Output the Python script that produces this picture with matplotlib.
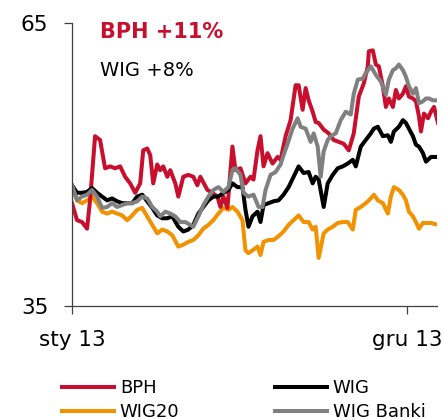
import numpy as np
import matplotlib
matplotlib.use("Agg")
import matplotlib.pyplot as plt
import matplotlib.dates as mdates
import datetime as dt

plt.rcParams['font.family'] = ['DejaVu Sans']

start = dt.date(2013, 1, 1)

# BPH
bph_days = [0, 5, 10, 15, 18, 23, 28, 33, 38, 43, 48, 53, 58, 63, 68, 71, 75, 78, 81, 85,
            88, 91, 95, 98, 103, 106, 111, 116, 121, 125, 128, 135, 140, 145, 148, 151, 155,
            160, 163, 168, 173, 178, 181, 185, 188, 191, 195, 200, 205, 208, 213, 218, 223,
            226, 230, 233, 236, 240, 243, 246, 251, 256, 261, 266, 271, 276, 281, 286, 291,
            295, 296, 300, 303, 306, 310, 313, 316, 320, 323, 326, 330, 333, 336, 340, 343,
            346, 348, 351, 355, 358, 361, 365]
bph = [45.9, 44.1, 43.9, 43.2, 46.2, 53.0, 52.6, 49.6, 49.8, 49.6, 49.8, 48.7, 48.0, 47.0,
       48.0, 51.5, 51.7, 51.0, 48.0, 50.0, 49.4, 49.8, 48.7, 49.4, 48.0, 46.6, 48.7, 48.9,
       48.7, 47.8, 48.7, 47.3, 47.0, 46.6, 45.5, 46.6, 45.4, 51.9, 49.4, 49.6, 48.0, 48.7,
       48.4, 51.5, 53.0, 49.8, 51.2, 50.1, 50.8, 50.5, 53.0, 54.7, 58.4, 58.4, 55.8, 58.1,
       56.8, 55.6, 54.5, 54.4, 53.7, 53.3, 52.6, 52.4, 52.2, 51.5, 53.3, 57.2, 58.6, 60.4,
       62.0, 62.1, 60.6, 60.4, 58.3, 56.1, 57.0, 56.1, 57.9, 57.0, 57.5, 58.3, 57.2, 57.0,
       56.7, 55.1, 53.5, 55.4, 54.9, 55.6, 56.1, 54.4]

# WIG Banki
banki_days = [0, 5, 10, 15, 20, 25, 30, 35, 40, 45, 50, 55, 60, 65, 70, 75, 80, 85, 88, 93,
              98, 103, 108, 113, 118, 121, 126, 131, 136, 141, 146, 151, 156, 160, 163, 168,
              171, 176, 181, 186, 190, 193, 198, 203, 208, 211, 215, 220, 225, 228, 233, 238,
              241, 245, 248, 251, 255, 258, 263, 268, 273, 278, 281, 285, 290, 293, 298, 303,
              308, 313, 316, 320, 323, 326, 330, 333, 336, 340, 343, 346, 350, 353, 356, 360, 365]
banki = [47.8, 46.2, 46.6, 46.8, 47.3, 46.6, 45.4, 45.5, 45.9, 45.5, 45.7, 45.9, 45.9, 46.1,
         46.6, 46.4, 45.5, 45.0, 44.5, 45.0, 44.8, 44.5, 43.9, 43.9, 43.6, 43.4, 44.5, 45.7,
         46.6, 47.3, 47.6, 47.1, 47.6, 49.4, 49.6, 48.9, 47.0, 46.6, 46.8, 45.5, 45.5, 47.3,
         48.9, 49.2, 50.0, 51.0, 52.2, 53.8, 54.9, 54.0, 53.8, 52.4, 53.3, 51.9, 48.7, 51.4,
         52.6, 53.0, 53.3, 54.7, 55.6, 55.3, 57.5, 59.0, 59.1, 59.7, 60.4, 59.5, 58.8, 57.4,
         59.0, 60.0, 60.2, 60.6, 60.0, 59.3, 58.3, 57.5, 58.1, 56.5, 56.7, 57.0, 57.0, 56.8, 56.8]

# WIG and WIG20 (same sampling days)
idx_days = [0, 5, 10, 15, 20, 25, 30, 35, 40, 45, 50, 55, 60, 65, 70, 75, 80, 85, 90, 95,
            100, 106, 111, 116, 121, 126, 131, 136, 141, 146, 151, 156, 160, 165, 170, 173,
            176, 180, 185, 188, 191, 196, 201, 206, 211, 216, 221, 226, 231, 236, 240, 243,
            246, 251, 255, 260, 265, 270, 275, 280, 283, 288, 293, 298, 301, 305, 310, 315,
            318, 321, 326, 330, 333, 336, 340, 343, 346, 350, 353, 358, 365]
wig = [47.8, 47.0, 47.0, 47.1, 47.5, 47.0, 46.6, 46.2, 46.4, 46.1, 45.9, 45.9, 45.9, 46.6,
       46.8, 46.1, 45.4, 44.6, 44.3, 44.3, 44.5, 43.4, 42.9, 43.1, 43.6, 44.8, 45.5, 46.2,
       46.6, 46.6, 47.0, 47.3, 48.0, 47.6, 47.6, 45.2, 43.4, 44.5, 45.0, 43.9, 45.7, 45.9,
       46.1, 46.2, 46.8, 47.6, 48.7, 49.8, 49.1, 49.2, 48.0, 48.7, 48.4, 45.5, 48.0, 48.9,
       49.6, 49.8, 50.1, 50.5, 49.8, 51.9, 52.6, 53.3, 53.8, 54.0, 53.0, 53.1, 52.4, 53.5,
       54.0, 54.7, 54.4, 53.8, 53.0, 52.1, 51.9, 51.2, 50.3, 50.8, 50.8]
wig20 = [47.6, 46.2, 45.9, 46.2, 46.6, 45.9, 45.0, 44.8, 45.0, 44.8, 44.6, 44.1, 44.6, 45.2,
         45.4, 44.5, 43.6, 42.7, 43.1, 42.9, 42.5, 41.3, 41.5, 41.8, 42.0, 42.5, 43.2, 43.6,
         44.1, 44.8, 45.4, 45.2, 45.5, 45.0, 44.1, 40.9, 40.6, 40.9, 41.3, 40.4, 41.8, 42.0,
         42.0, 42.4, 42.9, 43.6, 44.1, 44.6, 43.9, 43.9, 43.1, 43.4, 40.1, 42.7, 43.1, 43.4,
         43.8, 43.9, 43.9, 43.1, 45.2, 45.5, 45.9, 46.4, 46.8, 46.2, 45.9, 44.8, 46.6, 47.6,
         47.3, 46.8, 46.2, 45.0, 44.5, 43.9, 43.2, 43.8, 43.8, 43.8, 43.6]

red = '#C8102E'
orange = '#F39200'
grey = '#808080'


def to_dates(days):
    return [start + dt.timedelta(days=d) for d in days]


fig = plt.figure(figsize=(4.44, 4.19), dpi=100)
ax = fig.add_axes([72 / 444, 1 - 306 / 419, (437 - 72) / 444, (306 - 23) / 419])

lw = 2.9
ax.plot(to_dates(idx_days), wig20, color=orange, lw=lw, label='WIG20', solid_joinstyle='round')
ax.plot(to_dates(bph_days), bph, color=red, lw=lw, label='BPH', solid_joinstyle='round')
ax.plot(to_dates(idx_days), wig, color='black', lw=lw, label='WIG', solid_joinstyle='round')
ax.plot(to_dates(banki_days), banki, color=grey, lw=lw, label='WIG Banki', solid_joinstyle='round')

ax.set_xlim(start, dt.date(2013, 12, 31))
ax.set_ylim(35, 65)
ax.set_yticks([35, 65])
ax.set_xticks([dt.date(2013, 1, 1), dt.date(2013, 12, 1)])
ax.set_xticklabels(['sty 13', 'gru 13'])
for s in ['top', 'right']:
    ax.spines[s].set_visible(False)
for s in ['left', 'bottom']:
    ax.spines[s].set_color('#404040')
    ax.spines[s].set_linewidth(0.9)
ax.tick_params(axis='both', direction='out', length=6, width=0.9, color='#404040',
               labelsize=15.5, pad=11)

fig.text(100 / 444, 1 - 32 / 419, 'BPH +11%', color=red, fontsize=15, fontweight='bold',
         va='center', ha='left')
fig.text(100 / 444, 1 - 70 / 419, 'WIG +8%', color='black', fontsize=14,
         va='center', ha='left')

handles, labels = ax.get_legend_handles_labels()
order = [1, 0, 2, 3]
fig.legend([handles[i] for i in order], [labels[i] for i in order], ncol=2,
           loc='upper left', bbox_to_anchor=(62 / 444, 1 - 379 / 419), frameon=False,
           fontsize=13, handlelength=2.9, handletextpad=0.3, columnspacing=5.3,
           labelspacing=0.35, borderpad=0, borderaxespad=0)

fig.savefig('out.png', dpi=100)
